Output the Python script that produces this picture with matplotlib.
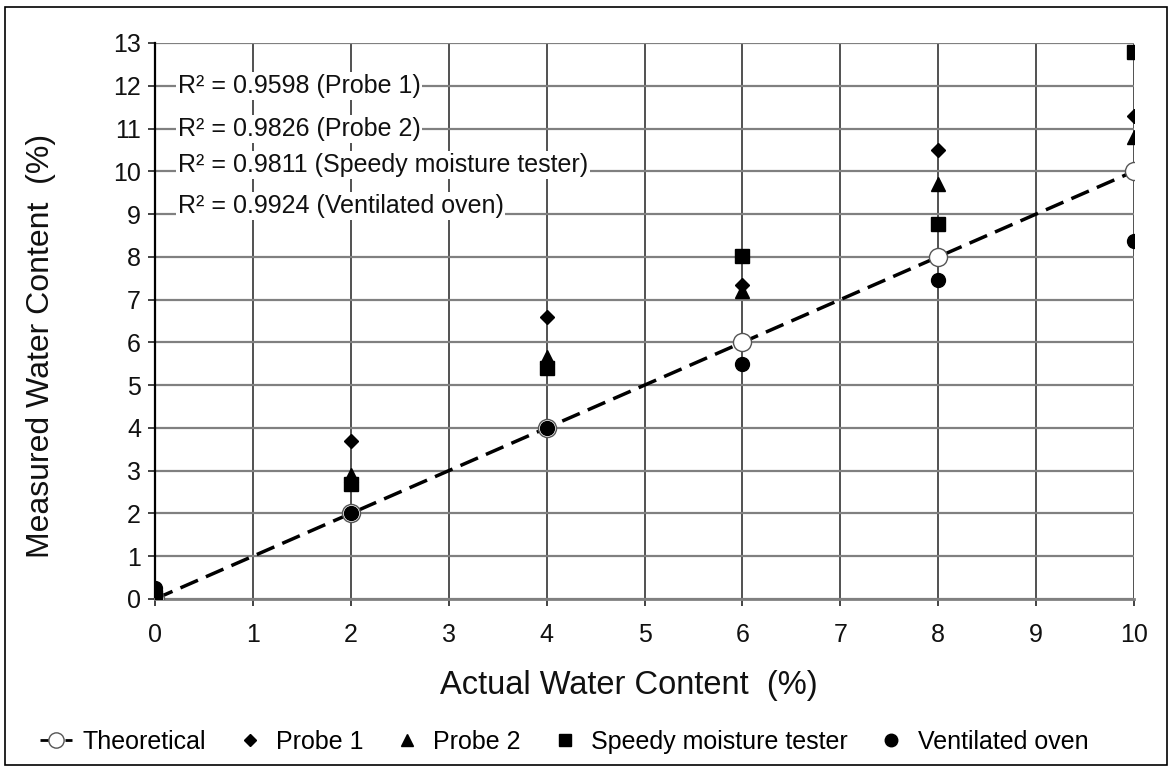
import matplotlib
matplotlib.use("Agg")
import matplotlib.pyplot as plt
from matplotlib.lines import Line2D

plt.rcParams['font.family'] = ['Liberation Sans', 'DejaVu Sans']

actual = [0, 2, 4, 6, 8, 10]
theoretical = [0, 2, 4, 6, 8, 10]
probe1 = [0.05, 3.7, 6.6, 7.35, 10.5, 11.3]
probe2 = [0.05, 2.9, 5.65, 7.2, 9.7, 10.8]
speedy = [0.05, 2.7, 5.4, 8.02, 8.76, 12.78]
oven = [0.25, 2.0, 4.0, 5.5, 7.45, 8.38]
r2_labels = ["R² = 0.9598 (Probe 1)", "R² = 0.9826 (Probe 2)",
             "R² = 0.9811 (Speedy moisture tester)", "R² = 0.9924 (Ventilated oven)"]
r2_y = [12.0, 11.0, 10.15, 9.2]

W, H = 1172, 767
fig = plt.figure(figsize=(W/100, H/100), dpi=100)
ax = fig.add_axes([155/W, 1-599/H, (1134-155)/W, (599-43)/H])

ax.plot(actual, theoretical, color='black', lw=2.5, dashes=(5.5, 2.5), zorder=2)
ax.plot(actual, theoretical, 'o', mfc='white', mec='#555555', ms=13, mew=1, ls='none', zorder=3)
ax.plot(actual, probe1, 'D', color='black', ms=7, ls='none', zorder=4)
ax.plot(actual, probe2, '^', color='black', ms=10, ls='none', zorder=4)
ax.plot(actual, speedy, 's', color='black', ms=10, ls='none', zorder=4)
ax.plot(actual, oven, 'o', color='black', ms=10, ls='none', zorder=4)

ax.set_xlim(0, 10)
ax.set_ylim(0, 13)
ax.set_xticks(range(0, 11))
ax.set_yticks(range(0, 14))
ax.grid(True, axis='y', color='#808080', lw=1.6)
ax.grid(True, axis='x', color='#222222', lw=1.1)
ax.set_axisbelow(True)
for s in ['top', 'right']:
    ax.spines[s].set_visible(False)
ax.spines['left'].set_linewidth(1.6)
ax.spines['left'].set_color('black')
ax.spines['bottom'].set_linewidth(2)
ax.spines['bottom'].set_color('#808080')
ax.tick_params(axis='y', labelsize=18, length=5, width=1.2, pad=5, colors='#222222', labelcolor='#111111')
ax.tick_params(axis='x', labelsize=18, length=5, width=1.2, pad=12, colors='#222222', labelcolor='#111111')
ax.set_xlabel("Actual Water Content  (%)", fontsize=23.5, color='#111111')
ax.set_ylabel("Measured Water Content  (%)", fontsize=23, color='#111111')
ax.xaxis.set_label_coords((629-155)/979, (599-670)/556)
ax.yaxis.set_label_coords((56-155)/979, 0.455)

for lab, yy in zip(r2_labels, r2_y):
    ax.text(0.23, yy, lab, fontsize=18, va='center', ha='left', color='#111111',
            bbox=dict(facecolor='white', edgecolor='none', pad=1.5), zorder=5)

handles = [
    Line2D([], [], color='black', lw=2, dashes=(3, 1.5), marker='o', mfc='white', mec='#555555', ms=11),
    Line2D([], [], color='black', ls='none', marker='D', ms=6.5),
    Line2D([], [], color='black', ls='none', marker='^', ms=9),
    Line2D([], [], color='black', ls='none', marker='s', ms=9),
    Line2D([], [], color='black', ls='none', marker='o', ms=9),
]
labels = ["Theoretical", "Probe 1", "Probe 2", "Speedy moisture tester", "Ventilated oven"]
fig.legend(handles, labels, loc='center', bbox_to_anchor=(564/W, 1-742/H), ncol=5,
           frameon=False, fontsize=18, handlelength=1.3, handletextpad=0.4, columnspacing=1.1)

fig.patches.append(plt.Rectangle((5/W, 2/H), 1-10/W, 1-9/H, transform=fig.transFigure,
                                 fill=False, edgecolor='black', lw=1.2))
fig.savefig("out.png", dpi=100)
